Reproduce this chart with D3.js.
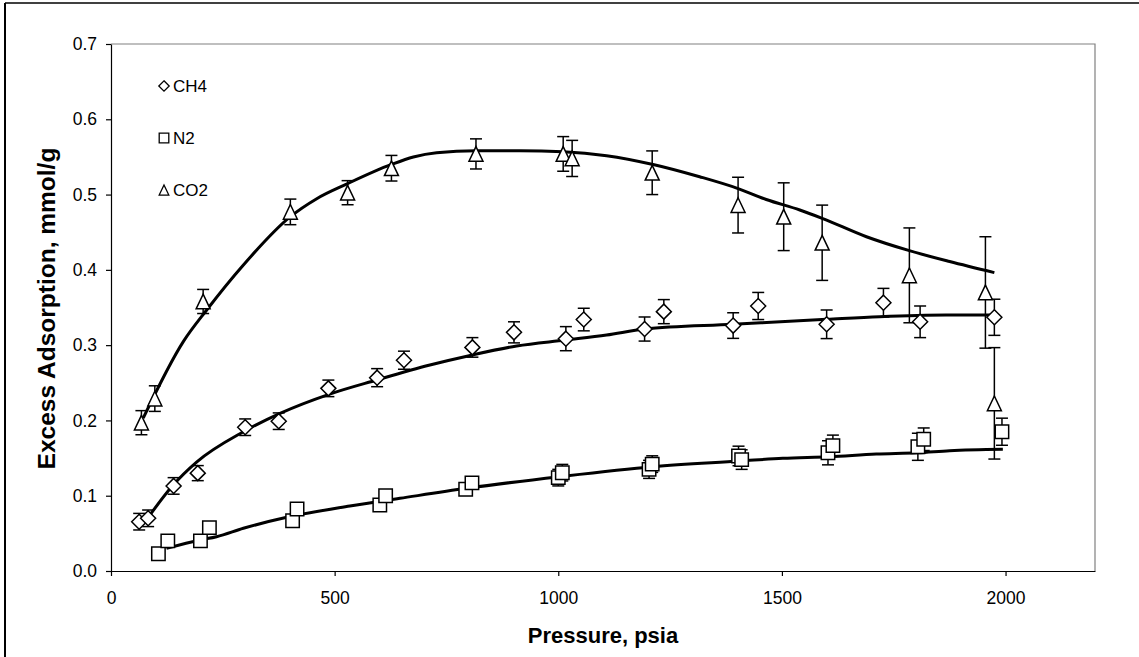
<!DOCTYPE html>
<html>
<head>
<meta charset="utf-8">
<script src="https://cdn.jsdelivr.net/npm/d3@7"></script>
<style>
  html, body { margin: 0; padding: 0; background: #fff; }
  svg { display: block; font-family: "Liberation Sans", Arial, sans-serif; }
</style>
</head>
<body>
<svg id="chart" width="1139" height="657"></svg>
<script>
// Measured excess adsorption: [pressure psia, mmol/g, error]
const ch4Points = [
  [63, 0.0655, 0.011], [83, 0.070, 0.011], [140, 0.113, 0.011], [194, 0.130, 0.010],
  [300, 0.191, 0.011], [375, 0.199, 0.011], [486, 0.2426, 0.011], [595, 0.2568, 0.012],
  [655, 0.280, 0.012], [808, 0.297, 0.013], [901, 0.317, 0.014], [1017, 0.3086, 0.016],
  [1057, 0.334, 0.015], [1193, 0.3214, 0.016], [1236, 0.3445, 0.016], [1391, 0.326, 0.017],
  [1447, 0.352, 0.018], [1600, 0.3277, 0.019], [1727, 0.3564, 0.019], [1809, 0.331, 0.021],
  [1975, 0.337, 0.024]
];
const n2Points = [
  [106, 0.023, 0.004], [127, 0.040, 0.004], [200, 0.040, 0.005], [220, 0.0576, 0.005],
  [406, 0.0668, 0.006], [416, 0.0823, 0.006], [601, 0.0877, 0.007], [614, 0.100, 0.007],
  [793, 0.1085, 0.008], [807, 0.117, 0.008], [1000, 0.124, 0.011], [1009, 0.1306, 0.011],
  [1203, 0.135, 0.012], [1210, 0.142, 0.011], [1403, 0.1528, 0.013], [1410, 0.148, 0.013],
  [1603, 0.157, 0.016], [1614, 0.1665, 0.014], [1804, 0.165, 0.018], [1817, 0.175, 0.015],
  [1992, 0.185, 0.018]
];
const co2Points = [
  [68, 0.197, 0.016], [98, 0.229, 0.017], [206, 0.358, 0.016], [401, 0.477, 0.017],
  [529, 0.5025, 0.016], [627, 0.535, 0.017], [816, 0.554, 0.020], [1011, 0.554, 0.023],
  [1031, 0.548, 0.024], [1210, 0.529, 0.029], [1402, 0.486, 0.037], [1504, 0.4706, 0.045],
  [1590, 0.436, 0.050], [1785, 0.3927, 0.063], [1955, 0.370, 0.074], [1975, 0.2227, 0.074]
];

// Model fit curves: [pressure psia, mmol/g]
const ch4Fit = [
  [80, 0.0686], [139, 0.1142], [192, 0.145], [296, 0.185], [378, 0.2094], [489, 0.235],
  [594, 0.2537], [713, 0.2736], [808, 0.287], [907, 0.2989], [1017, 0.3068], [1108, 0.3135],
  [1193, 0.3214], [1391, 0.3277], [1600, 0.3343], [1718, 0.3378], [1867, 0.340], [1975, 0.340]
];
const n2Fit = [
  [124, 0.030], [199, 0.0412], [236, 0.0456], [296, 0.0567], [393, 0.0713], [534, 0.0863],
  [646, 0.0965], [795, 0.1098], [1003, 0.1253], [1212, 0.1385], [1406, 0.146], [1502, 0.1497],
  [1607, 0.1518], [1711, 0.1554], [1804, 0.157], [1875, 0.1598], [1994, 0.1616]
];
const co2Fit = [
  [72, 0.203], [162, 0.305], [214, 0.3467], [296, 0.4065], [401, 0.4706], [460, 0.4945],
  [529, 0.5145], [627, 0.540], [676, 0.550], [728, 0.5557], [817, 0.5583], [914, 0.5583],
  [1011, 0.557], [1108, 0.5517], [1212, 0.540], [1316, 0.5237], [1402, 0.508], [1465, 0.4935],
  [1540, 0.4795], [1590, 0.4685], [1689, 0.444], [1785, 0.4255], [1875, 0.411], [1975, 0.3963]
];

const xTicks = [0, 500, 1000, 1500, 2000];
const yTicks = [0, 0.1, 0.2, 0.3, 0.4, 0.5, 0.6, 0.7];
const legendItems = [
  { label: "CH4", shape: "diamond" },
  { label: "N2", shape: "square" },
  { label: "CO2", shape: "triangle" }
];

const svg = d3.select("#chart");
const plot = { left: 111, top: 44, right: 1095, bottom: 571 };

const x = d3.scaleLinear().domain([0, 2200]).range([plot.left, plot.right]);
const y = d3.scaleLinear().domain([0, 0.7]).range([plot.bottom, plot.top]);

// Outer frame (left and top edges fall inside the canvas)
svg.append("line").attr("x1", 5).attr("y1", 3).attr("x2", 5).attr("y2", 657)
  .attr("stroke", "#000").attr("stroke-width", 2);
svg.append("line").attr("x1", 5).attr("y1", 3).attr("x2", 1139).attr("y2", 3)
  .attr("stroke", "#000").attr("stroke-width", 1.5);

// Plot area border (top and right in gray)
svg.append("path")
  .attr("d", `M${plot.left},${plot.top}H${plot.right}V${plot.bottom}`)
  .attr("fill", "none").attr("stroke", "#808080").attr("stroke-width", 1.2);

// Axes
const xAxis = svg.append("g").attr("transform", `translate(0,${plot.bottom})`)
  .call(d3.axisBottom(x).tickValues(xTicks).tickFormat(d3.format("d"))
    .tickSizeInner(5).tickSizeOuter(0).tickPadding(16));
const yAxis = svg.append("g").attr("transform", `translate(${plot.left},0)`)
  .call(d3.axisLeft(y).tickValues(yTicks).tickFormat(d3.format(".1f"))
    .tickSizeInner(5).tickSizeOuter(0).tickPadding(9));
[xAxis, yAxis].forEach(g => {
  g.selectAll("path, line").attr("stroke", "#000").attr("stroke-width", 1.2);
  g.selectAll("text").attr("font-size", 17.5).attr("fill", "#000")
    .attr("font-family", "'Liberation Sans', Arial, sans-serif");
});

// Axis titles
svg.append("text").attr("x", (plot.left + plot.right) / 2).attr("y", 643)
  .attr("text-anchor", "middle").attr("font-weight", "bold").attr("font-size", 22)
  .text("Pressure, psia");
svg.append("text")
  .attr("transform", `translate(55,${(plot.top + plot.bottom) / 2 + 1}) rotate(-90)`)
  .attr("text-anchor", "middle").attr("font-weight", "bold").attr("font-size", 24.5)
  .text("Excess Adsorption, mmol/g");

// Fit lines
const line = d3.line().x(d => x(d[0])).y(d => y(d[1])).curve(d3.curveMonotoneX);
[co2Fit, ch4Fit, n2Fit].forEach(fit => {
  svg.append("path").datum(fit).attr("d", line)
    .attr("fill", "none").attr("stroke", "#000").attr("stroke-width", 3)
    .attr("stroke-linejoin", "round");
});

// Marker shapes
function shapePath(shape, r) {
  if (shape === "diamond") return `M0,${-r}L${r},0L0,${r}L${-r},0Z`;
  if (shape === "square") return `M${-r},${-r}H${r}V${r}H${-r}Z`;
  const h = r * 1.05;
  return `M0,${-h}L${r},${h}L${-r},${h}Z`;
}

const series = [
  { pts: ch4Points, shape: "diamond", r: 7.5 },
  { pts: n2Points, shape: "square", r: 6.7 },
  { pts: co2Points, shape: "triangle", r: 7 }
];

// Error bars
series.forEach(s => {
  const g = svg.append("g").attr("stroke", "#000").attr("stroke-width", 1.5);
  s.pts.forEach(d => {
    const cx = x(d[0]), y1 = y(d[1] + d[2]), y2 = y(d[1] - d[2]);
    g.append("line").attr("x1", cx).attr("x2", cx).attr("y1", y1).attr("y2", y2);
    g.append("line").attr("x1", cx - 6).attr("x2", cx + 6).attr("y1", y1).attr("y2", y1);
    g.append("line").attr("x1", cx - 6).attr("x2", cx + 6).attr("y1", y2).attr("y2", y2);
  });
});

// Markers
series.forEach(s => {
  svg.append("g").selectAll("path").data(s.pts).join("path")
    .attr("transform", d => `translate(${x(d[0])},${y(d[1])})`)
    .attr("d", shapePath(s.shape, s.r))
    .attr("fill", "#fff").attr("stroke", "#000").attr("stroke-width", 1.5);
});

// Legend
const legend = svg.append("g");
legendItems.forEach((item, i) => {
  const cy = 86 + i * 52;
  legend.append("path").attr("transform", `translate(164,${cy})`)
    .attr("d", shapePath(item.shape, item.shape === "diamond" ? 5.2 : 4.8))
    .attr("fill", "#fff").attr("stroke", "#000").attr("stroke-width", 1.3);
  legend.append("text").attr("x", 173).attr("y", cy + 6)
    .attr("font-size", 17).text(item.label);
});
</script>
</body>
</html>
